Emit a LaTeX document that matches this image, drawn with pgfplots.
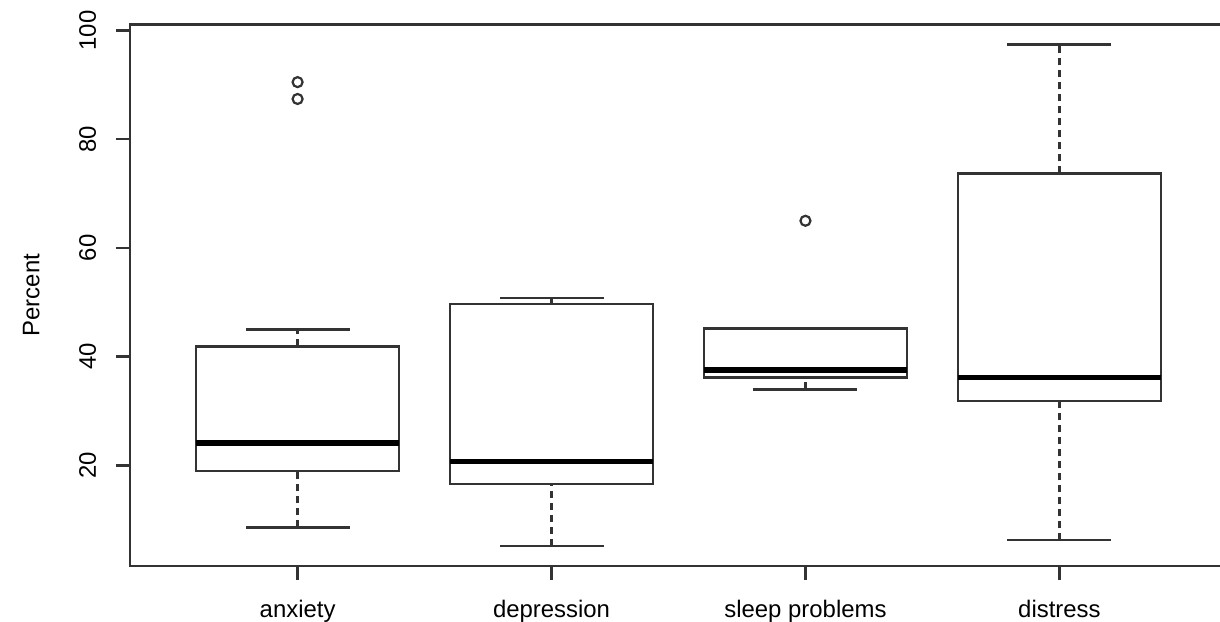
\documentclass[border=0pt]{standalone}
\usepackage{fontspec}
\setmainfont{Liberation Sans}
\usepackage{pgfplots}
\pgfplotsset{compat=1.18}
\tikzset{
  boxline/.style={draw=black!80, line width=1.2bp, solid, line cap=rect, line join=miter},
  whiskerstem/.style={draw=black!80, line width=1.2bp, dash pattern=on 3.5bp off 2.5bp},
  medianline/.style={draw=black, line width=2.8bp, line cap=butt},
}
\begin{document}
\fontsize{12}{14}\selectfont
\begin{tikzpicture}
\path[use as bounding box] (-65bp,-28bp) rectangle (545bp,283bp);
\begin{axis}[
  at={(0,0)}, anchor=south west,
  scale only axis,
  width=548.5bp, height=270.75bp,
  xmin=0.34, xmax=4.66, ymin=1.5, ymax=101.1,
  xtick={1,2,3,4},
  xticklabels={anxiety,depression,sleep problems,distress},
  ytick={20,40,60,80,100},
  tick align=outside, tick pos=left,
  major tick length=7bp,
  every tick/.style={black!80, line width=1.2bp},
  axis line style={black!80, line width=1.2bp},
  ticklabel style={font=\fontsize{12}{14}\selectfont},
  xticklabel style={anchor=base, inner sep=0pt, yshift=-18.5bp},
  yticklabel style={rotate=90, anchor=south, inner sep=0pt, outer sep=0pt, outer ysep=10bp},
  ylabel={Percent},
  ylabel style={at={(axis description cs:-0.082,0.5)}, anchor=south, inner sep=0pt, font=\fontsize{12}{14}\selectfont},
  /pgf/number format/assume math mode=true,
  unbounded coords=jump,
  clip=false,
]
% whisker stems (dashed)
\addplot[whiskerstem] coordinates {
  (1,41.9) (1,45.0) (1,nan) (1,8.6) (1,18.95) (1,nan)
  (2,49.7) (2,50.8) (2,nan) (2,5.2) (2,16.6) (2,nan)
  (3,34.0) (3,36.2) (3,nan)
  (4,73.7) (4,97.4) (4,nan) (4,6.25) (4,31.8)
};
% boxes and whisker caps
\addplot[boxline] coordinates {
  (0.6,18.95) (1.4,18.95) (1.4,41.9) (0.6,41.9) (0.6,18.95) (1,nan)
  (0.8,45.0) (1.2,45.0) (1,nan) (0.8,8.6) (1.2,8.6) (1,nan)
  (1.6,16.6) (2.4,16.6) (2.4,49.7) (1.6,49.7) (1.6,16.6) (2,nan)
  (1.8,50.8) (2.2,50.8) (2,nan) (1.8,5.2) (2.2,5.2) (2,nan)
  (2.6,36.2) (3.4,36.2) (3.4,45.2) (2.6,45.2) (2.6,36.2) (3,nan)
  (2.8,45.2) (3.2,45.2) (3,nan) (2.8,34.0) (3.2,34.0) (3,nan)
  (3.6,31.8) (4.4,31.8) (4.4,73.7) (3.6,73.7) (3.6,31.8) (4,nan)
  (3.8,97.4) (4.2,97.4) (4,nan) (3.8,6.25) (4.2,6.25)
};
% medians
\addplot[medianline] coordinates {
  (0.6,24.1) (1.4,24.1) (1,nan)
  (1.6,20.7) (2.4,20.7) (2,nan)
  (2.6,37.5) (3.4,37.5) (3,nan)
  (3.6,36.2) (4.4,36.2)
};
% outliers
\addplot[only marks, mark=o, mark size=2.5bp, mark options={draw=black!80, line width=1.1bp}] coordinates {(1,90.5) (1,87.4) (3,65.0)};
\end{axis}
\end{tikzpicture}
\end{document}
